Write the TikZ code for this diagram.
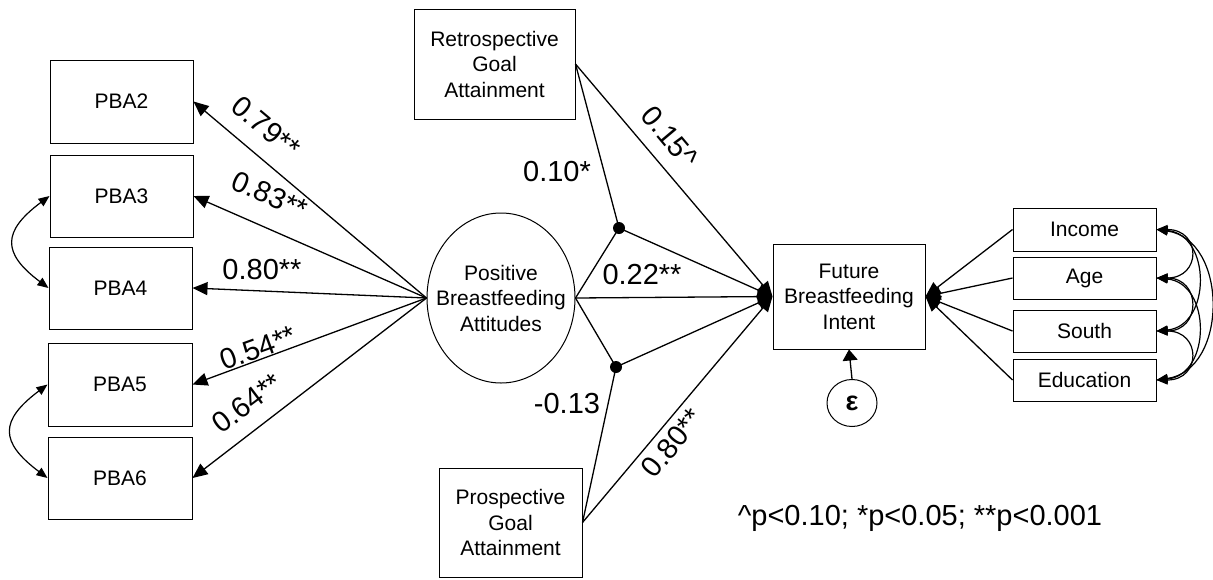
\documentclass[tikz,border=0pt]{standalone}
\usepackage{fontspec}
\setmainfont{Liberation Sans}
\usetikzlibrary{arrows.meta,shapes.geometric}
\begin{document}
\begin{tikzpicture}[x=1pt,y=-1pt,
  box/.style={draw,line width=1pt,inner sep=0pt,align=center,font=\fontsize{21}{25.5}\selectfont},
  lat/.style={draw,ellipse,line width=1pt,inner sep=0pt},
  txt/.style={inner sep=0pt,align=center,font=\fontsize{21}{25.5}\selectfont},
  conn/.style={line width=1.3pt},
  arr/.style={conn,-{Triangle[length=15pt,width=13pt]}},
  cov/.style={line width=1.2pt,{Triangle[length=11pt,width=9pt]}-{Triangle[length=11pt,width=9pt]}},
  coef/.style={font=\fontsize{29}{34}\selectfont,inner sep=0pt},
  dotn/.style={circle,fill,inner sep=0pt,minimum size=12pt}
]
\useasboundingbox (0,0) rectangle (1213,579);

% indicator boxes
\node[box,minimum width=143pt,minimum height=83pt] (PBA2) at (121.5,101.5) {PBA2};
\node[box,minimum width=143pt,minimum height=82pt] (PBA3) at (121.5,196) {PBA3};
\node[box,minimum width=143pt,minimum height=82pt] (PBA4) at (120.5,288) {PBA4};
\node[box,minimum width=144pt,minimum height=83pt] (PBA5) at (120,384.5) {PBA5};
\node[box,minimum width=144pt,minimum height=82pt] (PBA6) at (120,478) {PBA6};

% latent
\node[lat,minimum width=148pt,minimum height=170pt] (Pos) at (501,298) {};
\node[txt] (PosText) at (Pos.center) {Positive\\Breastfeeding\\Attitudes};

% goal boxes
\node[box,minimum width=161pt,minimum height=110pt] (Retro) at (494.5,64) {Retrospective\\Goal\\Attainment};
\node[box,minimum width=143pt,minimum height=109pt] (Prosp) at (510.5,522.5) {Prospective\\Goal\\Attainment};

% outcome
\node[box,minimum width=152pt,minimum height=105pt] (Future) at (849,296.5) {Future\\Breastfeeding\\Intent};
\node[draw,ellipse,line width=1pt,inner sep=0pt,minimum width=50pt,minimum height=47pt,font=\fontsize{27}{30}\selectfont\bfseries] (eps) at (852,403) {ε};

% covariates
\node[box,minimum width=143pt,minimum height=43pt] (Income) at (1084.5,229.5) {Income};
\node[box,minimum width=143pt,minimum height=42pt] (Age) at (1084.5,278) {Age};
\node[box,minimum width=143pt,minimum height=42pt] (South) at (1084.5,331) {South};
\node[box,minimum width=143pt,minimum height=42pt] (Edu) at (1084.5,380) {Education};

% interaction dots
\node[dotn] (d1) at (619,228) {};
\node[dotn] (d2) at (616,367) {};

% loadings
\draw[arr] (Pos.west) -- (PBA2.east);
\draw[arr] (Pos.west) -- (PBA3.east);
\draw[arr] (Pos.west) -- (PBA4.east);
\draw[arr] (Pos.west) -- (PBA5.east);
\draw[arr] (Pos.west) -- (PBA6.east);

% residual covariances left
\draw[cov] (PBA3.west) .. controls +(-47,35) and +(-47,-35) .. (PBA4.west);
\draw[cov] (PBA5.west) .. controls +(-48,36) and +(-48,-36) .. (PBA6.west);

% structural paths
\draw[conn] (Retro.east) -- (d1.center);
\draw[conn] (Pos.east) -- (d1.center);
\draw[conn] (Pos.east) -- (d2.center);
\draw[conn] (Prosp.east) -- (d2.center);
\draw[arr] (d1.center) -- (Future.west);
\draw[arr] (d2.center) -- (Future.west);
\draw[arr] (Retro.east) -- (Future.west);
\draw[arr] (Prosp.east) -- (Future.west);
\draw[arr] (Pos.east) -- (Future.west);

% error
\draw[conn,-{Triangle[length=11pt,width=15pt]}] (eps.north) -- (Future.south);

% covariates
\draw[arr] (Income.west) -- (Future.east);
\draw[arr] (Age.west) -- (Future.east);
\draw[arr] (South.west) -- (Future.east);
\draw[arr] (Edu.west) -- (Future.east);

% covariate correlations
\draw[cov] (Income.east) .. controls +(45,0) and +(45,0) .. (Age.east);
\draw[cov] (Age.east) .. controls +(45,0) and +(45,0) .. (South.east);
\draw[cov] (South.east) .. controls +(45,0) and +(45,0) .. (Edu.east);
\draw[cov] (Income.east) .. controls +(55,5) and +(55,-5) .. (South.east);
\draw[cov] (Age.east) .. controls +(55,5) and +(55,-5) .. (Edu.east);
\draw[cov] (Income.east) .. controls +(72,10) and +(72,-10) .. (Edu.east);

% coefficients
\node[coef,rotate=-40] (c79) at (266,127) {0.79**};
\node[coef,rotate=-24] (c83) at (270,195) {0.83**};
\node[coef] (c80a) at (262,270) {0.80**};
\node[coef,rotate=20] (c54) at (258,348) {0.54**};
\node[coef,rotate=37] (c64) at (247,403) {0.64**};
\node[coef] (c10) at (557,172) {0.10*};
\node[coef,rotate=-50] (c15) at (670,137) {0.15\textasciicircum};
\node[coef] (c22) at (642,275) {0.22**};
\node[coef] (c13) at (567,404) {-0.13};
\node[coef,rotate=51] (c80b) at (672,443) {0.80**};
\node[coef,anchor=base] (legend) at (920,525) {\textasciicircum p<0.10; *p<0.05; **p<0.001};
\end{tikzpicture}
\end{document}
